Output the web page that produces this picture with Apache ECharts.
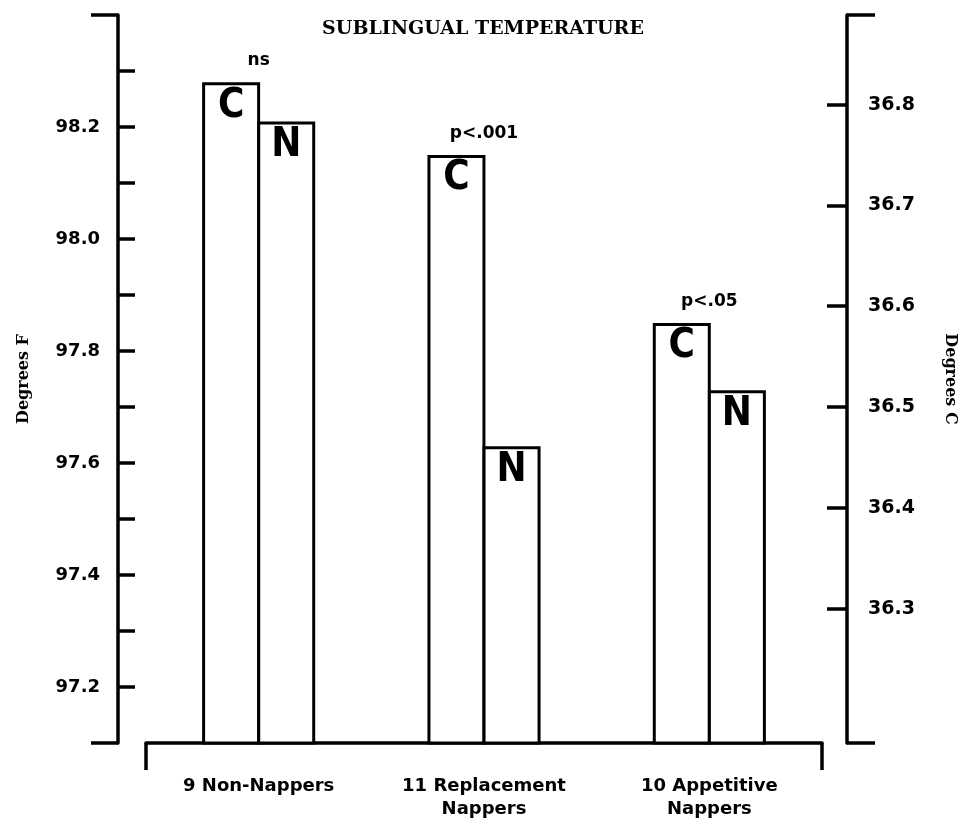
<!DOCTYPE html>
<html>
<head>
<meta charset="utf-8">
<script src="https://cdn.jsdelivr.net/npm/echarts@6/dist/echarts.min.js"></script>
<style>
html,body{margin:0;padding:0;background:#fff;}
#chart{width:960px;height:826px;}
</style>
</head>
<body>
<div id="chart"></div>
<script>
// ---- data ----
const categories = ['9 Non-Nappers', '11 Replacement\nNappers', '10 Appetitive\nNappers'];
const controlValues = [98.28, 98.15, 97.85];   // C bars (deg F)
const nappingValues = [98.21, 97.63, 97.73];   // N bars (deg F)
const significance = ['ns', 'p<.001', 'p<.05'];
const fahrenheitRange = [97.1, 98.4];
const fahrenheitTicks = [97.2, 97.3, 97.4, 97.5, 97.6, 97.7, 97.8, 97.9, 98.0, 98.1, 98.2, 98.3];
const fahrenheitLabels = [97.2, 97.4, 97.6, 97.8, 98.0, 98.2];
const celsiusTicks = [36.3, 36.4, 36.5, 36.6, 36.7, 36.8];

const fToC = f => (f - 32) / 1.8;
const celsiusRange = [fToC(fahrenheitRange[0]), fToC(fahrenheitRange[1])];

const INK = '#000';
const LINE_W = 3.5;
const labelFont = "'DejaVu Sans', sans-serif";
const serifFont = "'DejaVu Serif', serif";
const narrowFont = "'Liberation Sans Narrow', 'DejaVu Sans Condensed', 'Liberation Sans', sans-serif";

const chart = echarts.init(document.getElementById('chart'), null, {renderer: 'canvas'});

const option = {
  backgroundColor: '#fff',
  animation: false,
  title: {
    text: 'SUBLINGUAL TEMPERATURE',
    left: 478, top: 15, textAlign: 'center',
    textStyle: {fontFamily: serifFont, fontWeight: 'bold', fontSize: 19, color: INK}
  },
  grid: {left: 146, right: 138, top: 15, bottom: 83, containLabel: false, outerBoundsMode: 'none'},
  xAxis: [
    {
      type: 'category', data: categories, position: 'bottom',
      axisLine: {show: true, onZero: false, lineStyle: {color: INK, width: LINE_W}},
      axisTick: {show: false},
      axisLabel: {interval: 0, margin: 32, color: INK, fontFamily: labelFont, fontWeight: 'bold',
                  fontSize: 18, lineHeight: 23},
      splitLine: {show: false}
    },
    {
      type: 'value', min: 0, max: 1, position: 'bottom',
      axisLine: {show: false, onZero: false},
      axisTick: {show: true, inside: false, length: 27, customValues: [0, 1],
                 lineStyle: {color: INK, width: LINE_W}},
      axisLabel: {show: false},
      splitLine: {show: false}
    }
  ],
  yAxis: [
    {
      type: 'value', position: 'left', offset: 28,
      min: fahrenheitRange[0], max: fahrenheitRange[1],
      name: 'Degrees F', nameLocation: 'middle', nameGap: 86, nameMoveOverlap: false,
      nameTextStyle: {fontFamily: serifFont, fontWeight: 'bold', fontSize: 16, color: INK},
      axisLine: {show: true, onZero: false, lineStyle: {color: INK, width: LINE_W}},
      axisTick: {show: true, inside: true, length: 17, customValues: fahrenheitTicks,
                 lineStyle: {color: INK, width: LINE_W}},
      axisLabel: {show: true, margin: 18, customValues: fahrenheitLabels,
                  formatter: v => Number(v).toFixed(1),
                  color: INK, fontFamily: labelFont, fontWeight: 'bold', fontSize: 18},
      splitLine: {show: false}
    },
    {
      type: 'value', position: 'left', offset: 28,
      min: fahrenheitRange[0], max: fahrenheitRange[1],
      axisLine: {show: false, onZero: false},
      axisTick: {show: true, inside: false, length: 27, customValues: fahrenheitRange,
                 lineStyle: {color: INK, width: LINE_W}},
      axisLabel: {show: false},
      splitLine: {show: false}
    },
    {
      type: 'value', position: 'right', offset: 25,
      min: celsiusRange[0], max: celsiusRange[1],
      name: 'Degrees C', nameLocation: 'middle', nameGap: 95, nameRotate: -90, nameMoveOverlap: false,
      nameTextStyle: {fontFamily: serifFont, fontWeight: 'bold', fontSize: 16, color: INK},
      axisLine: {show: true, onZero: false, lineStyle: {color: INK, width: LINE_W}},
      axisTick: {show: true, inside: true, length: 20, customValues: celsiusTicks,
                 lineStyle: {color: INK, width: LINE_W}},
      axisLabel: {show: true, margin: 21, customValues: celsiusTicks,
                  formatter: v => Number(v).toFixed(1),
                  color: INK, fontFamily: labelFont, fontWeight: 'bold', fontSize: 19},
      splitLine: {show: false}
    },
    {
      type: 'value', position: 'right', offset: 25,
      min: celsiusRange[0], max: celsiusRange[1],
      axisLine: {show: false, onZero: false},
      axisTick: {show: true, inside: false, length: 28, customValues: celsiusRange,
                 lineStyle: {color: INK, width: LINE_W}},
      axisLabel: {show: false},
      splitLine: {show: false}
    }
  ],
  series: [
    {
      name: 'C', type: 'bar', xAxisIndex: 0, yAxisIndex: 0,
      data: controlValues, barWidth: 58, barGap: '-5%',
      itemStyle: {color: '#fff', borderColor: INK, borderWidth: 3},
      label: {show: true, position: 'insideTop', distance: 4, formatter: '{a}',
              color: INK, fontFamily: narrowFont, fontWeight: 'bold', fontSize: 40}
    },
    {
      name: 'N', type: 'bar', xAxisIndex: 0, yAxisIndex: 0,
      data: nappingValues, barWidth: 58, barGap: '-5%',
      itemStyle: {color: '#fff', borderColor: INK, borderWidth: 3},
      label: {show: true, position: 'insideTop', distance: 4, formatter: '{a}',
              color: INK, fontFamily: narrowFont, fontWeight: 'bold', fontSize: 40}
    },
    {
      name: 'significance', type: 'scatter', xAxisIndex: 0, yAxisIndex: 0,
      data: controlValues, symbolSize: 0, silent: true,
      itemStyle: {opacity: 1, color: INK},
      label: {show: true, position: 'top', distance: 13,
              formatter: p => significance[p.dataIndex],
              color: INK, fontFamily: labelFont, fontWeight: 'bold', fontSize: 17}
    }
  ]
};
chart.setOption(option);
</script>
</body>
</html>
